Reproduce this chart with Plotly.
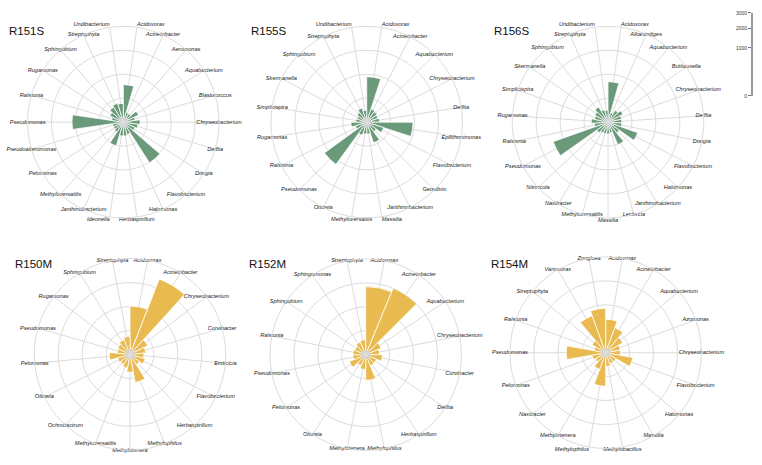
import numpy as np
import plotly.graph_objects as go

W, H = 762, 465
VMAX = 4000                       # value at the outer ring (sqrt radial scale)
RING_VALUES = [250, 1000, 2250]   # inner grid rings
HUB_VALUE = 11                    # small grey hub in the middle of each rose
SCALE_VALUES = [0, 1000, 2000, 3000]
SCALE_LABELS = ["0", "1000", "2000", "3000"]

GREEN = "#6b9a7a"
GOLD = "#e8ba50"

# ---------------- data ----------------
r151s_genera = ["Acidovorax", "Acinetobacter", "Aeromonas", "Aquabacterium", "Blastococcus",
                "Chryseobacterium", "Delftia", "Dongia", "Flavobacterium", "Halomonas",
                "Herbaspirillum", "Ideonella", "Janthinobacterium", "Methyloversatilis",
                "Pelomonas", "Pseudoalteromonas", "Pseudomonas", "Ralstonia", "Rugamonas",
                "Sphingobium", "Streptophyta", "Undibacterium"]
r151s_reads = [614, 43, 43, 123, 61, 123, 96, 72, 1021, 72, 83, 83, 266, 61, 51, 51,
               1150, 61, 96, 138, 170, 153]

r155s_genera = ["Acidovorax", "Acinetobacter", "Aquabacterium", "Chryseobacterium", "Delftia",
                "Epilithonimonas", "Flavobacterium", "Geovibrio", "Janthinobacterium", "Massilia",
                "Methyloversatilis", "Ottowia", "Pseudomonas", "Ralstonia", "Rugamonas",
                "Simplicispira", "Skermanella", "Sphingobium", "Streptophyta", "Undibacterium"]
r155s_reads = [900, 83, 72, 61, 72, 939, 138, 61, 206, 61, 61, 83, 1194, 61, 109, 51, 43,
               61, 96, 61]

r156s_genera = ["Acidovorax", "Alkanindiges", "Aquabacterium", "Buttiauxella", "Chryseobacterium",
                "Delftia", "Dongia", "Flavobacterium", "Halomonas", "Janthinobacterium",
                "Leclercia", "Massilia", "Methyloversatilis", "Naxibacter", "Nitrincola",
                "Pseudomonas", "Ralstonia", "Rugamonas", "Simplicispira", "Skermanella",
                "Sphingobium", "Streptophyta", "Undibacterium"]
r156s_reads = [715, 43, 83, 123, 83, 83, 83, 435, 83, 266, 51, 61, 61, 61, 83, 1480, 83,
               123, 83, 96, 138, 72, 61]

r150m_genera = ["Acidovorax", "Acinetobacter", "Chryseobacterium", "Curvibacter", "Emticicia",
                "Flavobacterium", "Herbaspirillum", "Methylophilus", "Methylotenera",
                "Methyloversatilis", "Ochrobactrum", "Ottowia", "Pelomonas", "Pseudomonas",
                "Rugamonas", "Sphingobium", "Streptophyta"]
r150m_reads = [1021, 2858, 170, 109, 83, 109, 61, 357, 138, 83, 61, 72, 187, 72, 83, 109, 138]

r152m_genera = ["Acidovorax", "Acinetobacter", "Aquabacterium", "Chryseobacterium", "Curvibacter",
                "Delftia", "Herbaspirillum", "Methylophilus", "Methylotenera", "Ottowia",
                "Pelomonas", "Pseudomonas", "Ralstonia", "Sphingobium", "Sphingomonas",
                "Streptophyta"]
r152m_reads = [2024, 2265, 123, 83, 123, 61, 61, 287, 96, 61, 138, 72, 72, 61, 83, 96]

r154m_genera = ["Acidovorax", "Acinetobacter", "Aquabacterium", "Azomonas", "Chryseobacterium",
                "Flavobacterium", "Halomonas", "Massilia", "Methylobacillus", "Methylophilus",
                "Methylotenera", "Naxibacter", "Pelomonas", "Pseudomonas", "Ralstonia",
                "Streptophyta", "Variovorax", "Zoogloea"]
r154m_reads = [491, 310, 170, 96, 96, 333, 61, 61, 83, 491, 138, 61, 83, 680, 61, 109, 680, 861]

# ---------------- layout ----------------
R_PX = 97
# name, genera, reads, colour, centre x/y (px), title x/y (px)
panels = [
    ("R151S", r151s_genera, r151s_reads, GREEN, 123.3, 120.7, 7, 28.5),
    ("R155S", r155s_genera, r155s_reads, GREEN, 366.7, 120.7, 249, 28.5),
    ("R156S", r156s_genera, r156s_reads, GREEN, 608.0, 120.7, 492, 28.5),
    ("R150M", r150m_genera, r150m_reads, GOLD, 130.0, 356.0, 13, 264),
    ("R152M", r152m_genera, r152m_reads, GOLD, 365.7, 356.3, 247, 264),
    ("R154M", r154m_genera, r154m_reads, GOLD, 605.7, 354.3, 489, 264),
]
# label placement where neighbouring labels would collide
LABEL_POS = {
    "R151S": {"Acidovorax": "top right", "Undibacterium": "top left",
              "Herbaspirillum": "bottom center", "Ideonella": "bottom left"},
    "R155S": {"Acidovorax": "top right", "Undibacterium": "top left",
              "Massilia": "bottom right", "Methyloversatilis": "bottom center"},
    "R156S": {"Acidovorax": "top right", "Undibacterium": "top left",
              "Massilia": "bottom center"},
    "R154M": {"Methylobacillus": "bottom center", "Methylophilus": "bottom left"},
}

FONT = "Liberation Sans, Arial, Helvetica, sans-serif"
GRID = "#dcdcdc"
rmax = float(np.sqrt(VMAX))

fig = go.Figure()
layout = dict(width=W, height=H, margin=dict(l=0, r=0, t=0, b=0),
              paper_bgcolor="white", plot_bgcolor="white", showlegend=False,
              font=dict(family=FONT))
annotations = []

for i, (name, genera, reads, color, cx, cy, tx, ty) in enumerate(panels):
    key = "polar" if i == 0 else f"polar{i+1}"
    n = len(genera)
    fig.add_trace(go.Barpolar(
        r=np.sqrt(np.array(reads, dtype=float)), theta=genera, subplot=key,
        marker=dict(color=color, line=dict(color="white", width=0.8)),
        hoverinfo="skip"))
    fig.add_trace(go.Barpolar(
        r=[np.sqrt(HUB_VALUE)] * n, theta=genera, subplot=key,
        marker=dict(color="#d2d2d2", line=dict(width=0)), hoverinfo="skip"))
    pos_map = LABEL_POS.get(name, {})
    positions = [pos_map.get(g, "middle center") for g in genera]
    fig.add_trace(go.Scatterpolar(
        r=[rmax] * n, theta=genera, subplot=key, mode="text", text=genera,
        textposition=positions, cliponaxis=False,
        textfont=dict(size=5.6, color="#222", style="italic", family=FONT),
        hoverinfo="skip"))
    layout[key] = dict(
        domain=dict(x=[(cx - R_PX) / W, (cx + R_PX) / W],
                    y=[1 - (cy + R_PX) / H, 1 - (cy - R_PX) / H]),
        bgcolor="white", bargap=0, barmode="overlay",
        radialaxis=dict(range=[0, rmax], tickvals=list(np.sqrt(RING_VALUES)),
                        showticklabels=False, ticks="", showline=False,
                        gridcolor=GRID, gridwidth=1, layer="above traces"),
        angularaxis=dict(type="category", categoryorder="array", categoryarray=genera,
                         direction="clockwise", rotation=90 - 180 / n,
                         showticklabels=False, ticks="", gridcolor=GRID, gridwidth=1,
                         showline=True, linecolor=GRID, linewidth=1,
                         layer="above traces"))
    annotations.append(dict(text=name, x=tx / W, y=1 - ty / H, xref="paper", yref="paper",
                            xanchor="left", yanchor="middle", showarrow=False,
                            font=dict(size=11.5, color="#111", family=FONT)))

# ---------------- scale axis (top right) ----------------
y0_px = 94
len_px = R_PX * np.sqrt(SCALE_VALUES[-1] / VMAX)
fig.add_trace(go.Scatter(x=[0] * len(SCALE_VALUES), y=np.sqrt(SCALE_VALUES),
                         mode="none", hoverinfo="skip", xaxis="x", yaxis="y"))
layout["xaxis"] = dict(domain=[753 / W, 758 / W], visible=False, range=[0, 1], fixedrange=True)
layout["yaxis"] = dict(domain=[1 - y0_px / H, 1 - (y0_px - len_px) / H], anchor="x",
                       side="left", range=[0, np.sqrt(SCALE_VALUES[-1])],
                       tickvals=list(np.sqrt(SCALE_VALUES)), ticktext=SCALE_LABELS,
                       showline=True, linecolor="#9a9a9a", linewidth=2,
                       ticks="outside", ticklen=3, tickcolor="#777", tickwidth=1,
                       tickfont=dict(size=5, color="#333", family=FONT), showgrid=False,
                       zeroline=False, fixedrange=True)
layout["annotations"] = annotations
fig.update_layout(**layout)
fig.write_html("out.html", config={"displayModeBar": False},
               post_script="document.body.style.margin='0';")
